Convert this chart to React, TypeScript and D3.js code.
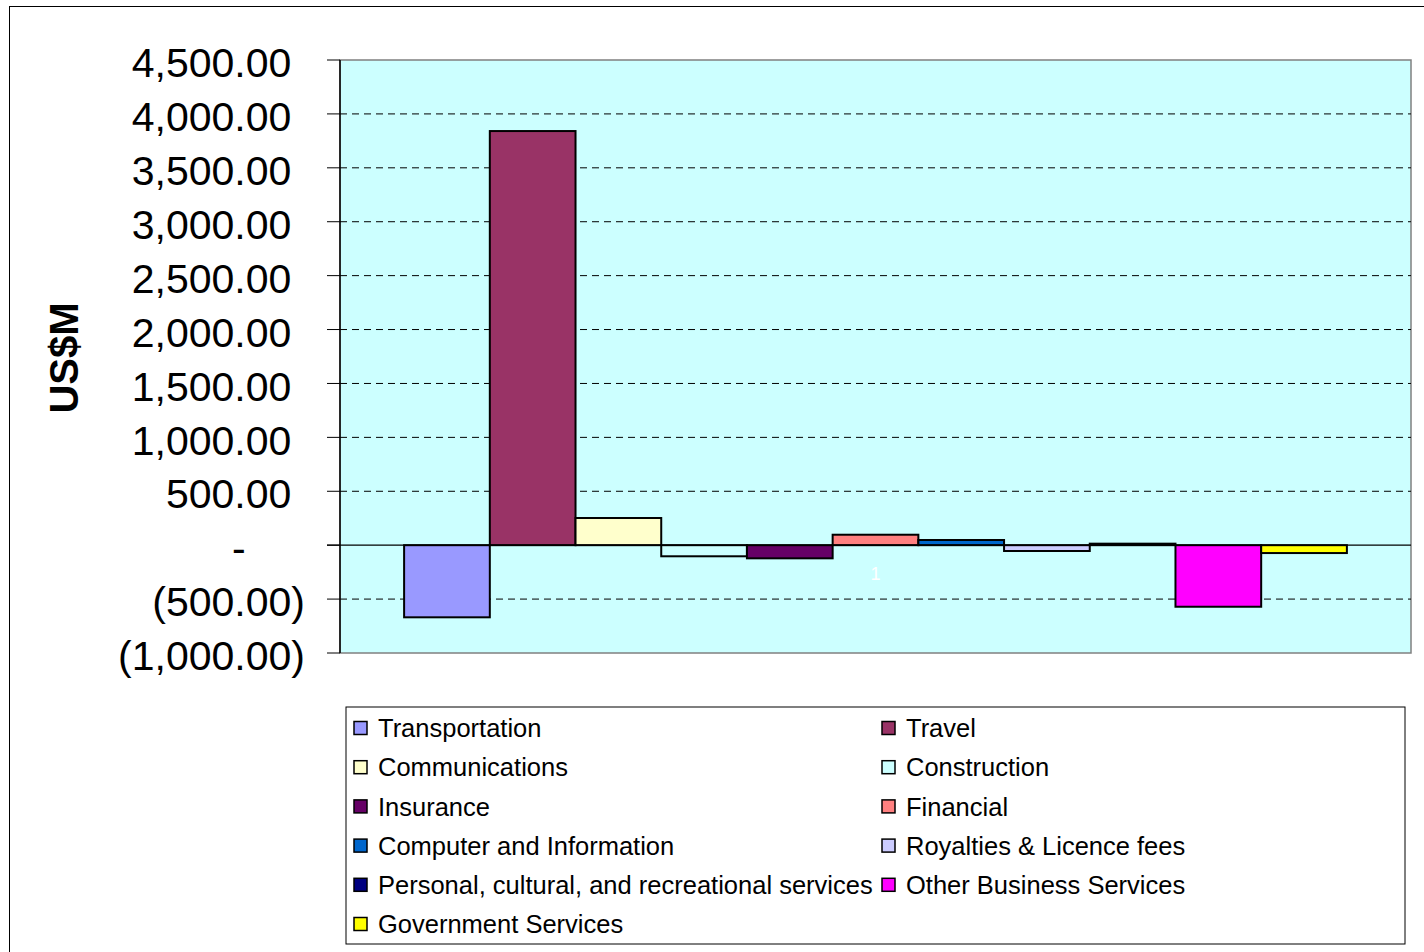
import React from "react";
import * as d3 from "d3";

const categories = [
  "Transportation",
  "Travel",
  "Communications",
  "Construction",
  "Insurance",
  "Financial",
  "Computer and Information",
  "Royalties & Licence fees",
  "Personal, cultural, and recreational services",
  "Other Business Services",
  "Government Services",
];
const values = [-669, 3841, 252, -103, -122, 97, 48, -54, 14, -571, -73];
const colors = [
  "#9999FF", "#993366", "#FFFFCC", "#CCFFFF", "#660066", "#FF8080",
  "#0066CC", "#CCCCFF", "#000080", "#FF00FF", "#FFFF00",
];
const yTicks = [4500, 4000, 3500, 3000, 2500, 2000, 1500, 1000, 500, 0, -500, -1000];

const W = 1424;
const H = 952;
const plot = { left: 340, right: 1411, top: 60, bottom: 653 };
const gapRatio = 0.136;
const FONT = "'Liberation Sans', Arial, sans-serif";

function fmt(v: number) {
  if (v === 0) return "-";
  const s = d3.format(",.2f")(Math.abs(v));
  return v < 0 ? `(${s})` : s;
}

export default function App() {
  const y = d3.scaleLinear().domain([-1000, 4500]).range([plot.bottom, plot.top]);
  const pw = plot.right - plot.left;
  const groupW = pw / (1 + gapRatio);
  const gx0 = plot.left + (pw - groupW) / 2;
  const x = d3.scaleBand<string>().domain(categories).range([gx0, gx0 + groupW]).padding(0);
  const fs = 41;
  const parenW = 0.333 * fs;
  const digitW = 0.556 * fs;
  const labelRight = plot.left - 35;

  const lg = { left: 346, top: 707, right: 1405, bottom: 944 };
  const rowH = 39.2;

  return (
    <svg width={W} height={H} style={{ position: "absolute", left: 0, top: 0 }} fontFamily={FONT}>
      <rect x={0} y={0} width={W} height={H} fill="#fff" />
      <rect x={9.5} y={6.5} width={W + 20} height={H + 20} fill="none" stroke="#000" strokeWidth={1} />
      {/* plot area */}
      <rect x={plot.left} y={plot.top} width={pw} height={plot.bottom - plot.top} fill="#CCFFFF" stroke="#808080" strokeWidth={1.5} />
      {yTicks.filter((t) => t !== 0 && t !== 4500 && t !== -1000).map((t) => (
        <line key={t} x1={plot.left} x2={plot.right} y1={y(t)} y2={y(t)} stroke="#000" strokeWidth={1} strokeDasharray="7,5" />
      ))}
      {/* y axis */}
      <line x1={plot.left} x2={plot.left} y1={plot.top} y2={plot.bottom} stroke="#000" strokeWidth={1.5} />
      {yTicks.map((t) => (
        <g key={t}>
          <line x1={plot.left - 13} x2={plot.left} y1={y(t)} y2={y(t)} stroke="#000" strokeWidth={1} />
          <text
            x={t < 0 ? labelRight : t === 0 ? labelRight - parenW - 2 * digitW : labelRight - parenW}
            y={y(t)}
            dy="0.42em"
            textAnchor="end"
            fontSize={fs}
            fill="#000"
          >
            {fmt(t)}
          </text>
        </g>
      ))}
      {/* bars */}
      {categories.map((c, i) => {
        const v = values[i];
        const y0 = y(Math.max(0, v));
        const y1 = y(Math.min(0, v));
        return (
          <rect key={c} x={x(c)} y={y0} width={x.bandwidth()} height={y1 - y0} fill={colors[i]} stroke="#000" strokeWidth={2} />
        );
      })}
      {/* zero axis */}
      <line x1={plot.left - 13} x2={plot.right} y1={y(0)} y2={y(0)} stroke="#000" strokeWidth={1.2} />
      <text x={(plot.left + plot.right) / 2} y={y(0) + 28} dy="0.36em" textAnchor="middle" fontSize={18} fill="#fff">1</text>
      {/* axis title */}
      <text transform={`translate(64,358) rotate(-90)`} textAnchor="middle" dy="0.36em" fontSize={40} fontWeight="bold" fill="#000">US$M</text>
      {/* legend */}
      <rect x={lg.left} y={lg.top} width={lg.right - lg.left} height={lg.bottom - lg.top} fill="#fff" stroke="#000" strokeWidth={1} />
      {categories.map((c, i) => {
        const col = i % 2;
        const row = Math.floor(i / 2);
        const sx = col === 0 ? 354 : 882;
        const cy = lg.top + 21 + row * rowH;
        return (
          <g key={c}>
            <rect x={sx} y={cy - 6.5} width={13} height={13} fill={colors[i]} stroke="#000" strokeWidth={1.5} />
            <text x={sx + 24} y={cy} dy="0.36em" fontSize={25.5} fill="#000">{c}</text>
          </g>
        );
      })}
    </svg>
  );
}
